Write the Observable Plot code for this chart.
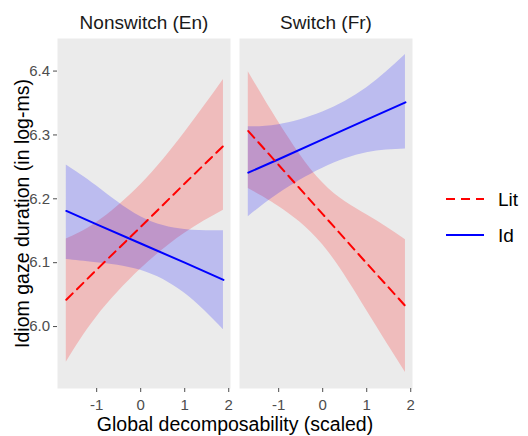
<!DOCTYPE html>
<html><head><meta charset="utf-8">
<script src="https://cdn.jsdelivr.net/npm/d3@7"></script>
<script src="https://cdn.jsdelivr.net/npm/@observablehq/plot@0.6"></script>
<style>
body{margin:0;background:#fff;font-family:"Liberation Sans",Arial,sans-serif}
#wrap{position:relative;width:528px;height:436px}
#legend{position:absolute;left:420px;top:150px}
</style>
</head><body><div id="wrap"></div>
<script>
const panels = ["Nonswitch (En)", "Switch (Fr)"];
const conditions = ["Lit", "Id"];
const xs = [-1.69, -1, 0, 1, 1.88];
const xTicks = [-1, 0, 1, 2];
const yTicks = [6.0, 6.1, 6.2, 6.3, 6.4];
const xTitle = "Global decomposability (scaled)";
const yTitle = "Idiom gaze duration (in log-ms)";

// Nonswitch (En)
const enLitFit = [6.042, 6.089, 6.156, 6.224, 6.283];
const enLitLo  = [5.944, 6.015, 6.090, 6.146, 6.182];
const enLitHi  = [6.137, 6.163, 6.222, 6.304, 6.387];
const enIdFit  = [6.181, 6.160, 6.130, 6.100, 6.073];
const enIdLo   = [6.105, 6.100, 6.088, 6.052, 5.995];
const enIdHi   = [6.253, 6.220, 6.172, 6.152, 6.150];
// Switch (Fr)
const frLitFit = [6.306, 6.253, 6.176, 6.099, 6.032];
const frLitLo  = [6.216, 6.188, 6.128, 6.025, 5.928];
const frLitHi  = [6.399, 6.320, 6.225, 6.175, 6.136];
const frIdFit  = [6.241, 6.262, 6.293, 6.324, 6.351];
const frIdLo   = [6.172, 6.208, 6.248, 6.272, 6.278];
const frIdHi   = [6.313, 6.316, 6.336, 6.374, 6.426];

const series = [
  [panels[0], "Lit", enLitFit, enLitLo, enLitHi],
  [panels[0], "Id",  enIdFit,  enIdLo,  enIdHi],
  [panels[1], "Lit", frLitFit, frLitLo, frLitHi],
  [panels[1], "Id",  frIdFit,  frIdLo,  frIdHi]
];
const rows = series.flatMap(([panel, cond, fit, lo, hi]) =>
  xs.map((x, i) => ({panel, cond, x, fit: fit[i], lo: lo[i], hi: hi[i]})));

const font = '"Liberation Sans", Arial, sans-serif';

const chart = Plot.plot({
  width: 528, height: 436,
  marginTop: 38, marginBottom: 48, marginLeft: 56, marginRight: 115,
  style: {fontFamily: font, background: "white", overflow: "visible"},
  fx: {domain: panels, paddingInner: 0.049, paddingOuter: 0, axis: null, label: null},
  x: {domain: [-1.89, 2.04]},
  y: {domain: [5.903, 6.451]},
  color: {domain: conditions, range: ["red", "blue"]},
  marks: [
    Plot.frame({fill: "#EBEBEB"}),
    Plot.areaY(rows, {x: "x", y1: "lo", y2: "hi", fx: "panel", z: "cond", fill: "cond", fillOpacity: 0.2, curve: "natural"}),
    Plot.lineY(rows.filter(d => d.cond === "Id"), {x: "x", y: "fit", fx: "panel", stroke: "cond", strokeWidth: 2}),
    Plot.lineY(rows.filter(d => d.cond === "Lit"), {x: "x", y: "fit", fx: "panel", stroke: "cond", strokeWidth: 2, strokeDasharray: "9,6"}),
    Plot.axisX({ticks: xTicks, tickFormat: d => String(d), tickSize: 4, tickPadding: 6.5, fontSize: 15, color: "#4D4D4D", label: null}),
    Plot.axisY({ticks: yTicks, tickFormat: d => d.toFixed(1), tickSize: 4, tickPadding: 3.5, fontSize: 15, color: "#4D4D4D", label: null}),
    Plot.text(panels, {fx: d => d, text: d => d, frameAnchor: "top", lineAnchor: "middle", dy: -16, fontSize: 19, fill: "#1A1A1A"}),
    Plot.text([xTitle], {text: d => d, frameAnchor: "bottom", lineAnchor: "middle", textAnchor: "middle", dy: 36, facet: "super", fontSize: 19.5, fill: "#000"}),
    Plot.text([yTitle], {text: d => d, frameAnchor: "left", lineAnchor: "middle", textAnchor: "middle", dx: -35, rotate: -90, facet: "super", fontSize: 19.5, fill: "#000"})
  ]
});

const wrap = document.getElementById("wrap");
wrap.appendChild(chart);

// legend
const legendColors = ["red", "blue"];
const legendDash = ["9,6", null];
const lg = d3.select(wrap).append("svg").attr("id", "legend").attr("width", 108).attr("height", 120)
  .style("font-family", font);
conditions.forEach((c, i) => {
  const y = 49 + i * 36;
  lg.append("line").attr("x1", 26).attr("x2", 64).attr("y1", y).attr("y2", y)
    .attr("stroke", legendColors[i]).attr("stroke-width", 2)
    .attr("stroke-dasharray", legendDash[i]);
  lg.append("text").attr("x", 78).attr("y", y).attr("dy", "0.35em")
    .attr("font-size", 19).attr("fill", "#000").text(c);
});
</script>
</body></html>
